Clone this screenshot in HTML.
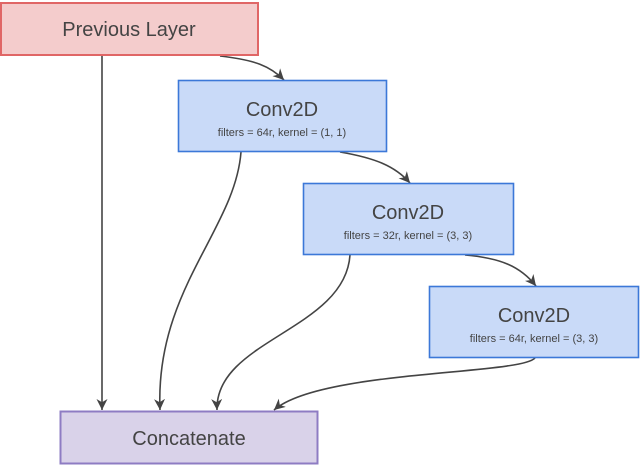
<!DOCTYPE html>
<html><head><style>
body{margin:0;background:#fff;width:640px;height:466px;overflow:hidden;font-family:"Liberation Sans",sans-serif}
</style></head><body>
<svg width="640" height="466" xmlns="http://www.w3.org/2000/svg">
<defs><marker id="a" markerWidth="10" markerHeight="10" refX="5" refY="9" orient="auto" markerUnits="userSpaceOnUse">
<path d="M0,0 L10,0 L5,10 Z" fill="#444" transform="rotate(-90 5 5) translate(0,0)"/></marker>
<marker id="b" viewBox="0 0 10 10" refX="10" refY="5" markerWidth="11" markerHeight="11" orient="auto" markerUnits="userSpaceOnUse"><path d="M0,0 L10,5 L0,10 L3,5 Z" fill="#444"/></marker></defs>
<g fill="none" stroke="#444" stroke-width="1.6" marker-end="url(#b)">
<path d="M102,55 L102,410"/>
<path d="M220,56 C255,60 270,66 284,80"/>
<path d="M241,152 C235,230 155,290 160,410"/>
<path d="M340,152 C375,158 395,166 410,183"/>
<path d="M350,255 C345,330 215,340 217,410"/>
<path d="M465,255 C500,258 520,266 536,286"/>
<path d="M535,358 C520,375 320,370 274,410"/>
</g>
<rect x="1" y="3" width="257" height="52" fill="#f4cccc" stroke="#e06666" stroke-width="2"/>
<text x="129" y="36" font-size="20" fill="#444" text-anchor="middle">Previous Layer</text>
<rect x="178.5" y="80.5" width="208" height="71" fill="#c9daf8" stroke="#3c78d8" stroke-width="1.6"/>
<text x="282" y="116" font-size="20" fill="#444" text-anchor="middle">Conv2D</text>
<text x="282" y="136" font-size="11" fill="#444" text-anchor="middle">filters = 64r, kernel = (1, 1)</text>
<rect x="303.5" y="183.5" width="210" height="71" fill="#c9daf8" stroke="#3c78d8" stroke-width="1.6"/>
<text x="408" y="219" font-size="20" fill="#444" text-anchor="middle">Conv2D</text>
<text x="408" y="239" font-size="11" fill="#444" text-anchor="middle">filters = 32r, kernel = (3, 3)</text>
<rect x="429.5" y="286.5" width="209" height="71" fill="#c9daf8" stroke="#3c78d8" stroke-width="1.6"/>
<text x="534" y="322" font-size="20" fill="#444" text-anchor="middle">Conv2D</text>
<text x="534" y="342" font-size="11" fill="#444" text-anchor="middle">filters = 64r, kernel = (3, 3)</text>
<rect x="60.5" y="411.5" width="257" height="52" fill="#d9d2e9" stroke="#8e7cc3" stroke-width="2"/>
<text x="189" y="445" font-size="20" fill="#444" text-anchor="middle">Concatenate</text>
</svg>
</body></html>
